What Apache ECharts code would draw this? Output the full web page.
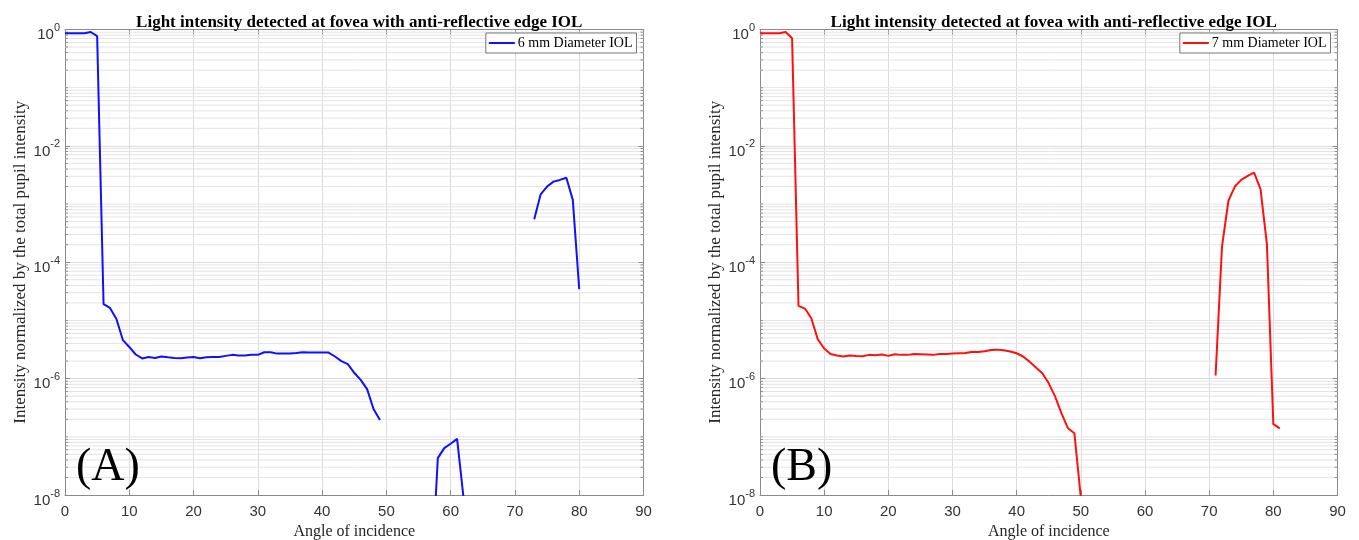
<!DOCTYPE html>
<html>
<head>
<meta charset="utf-8">
<script src="https://cdn.jsdelivr.net/npm/echarts@6/dist/echarts.min.js"></script>
<style>
  html, body { margin: 0; padding: 0; background: #fff; }
  #chart { width: 1359px; height: 540px; }
</style>
</head>
<body>
<div id="chart"></div>
<script>
// ---- Data ----
const titleText = 'Light intensity detected at fovea with anti-reflective edge IOL';
const seriesNames = ['6 mm Diameter IOL', '7 mm Diameter IOL'];
const panelLabels = ['(A)', '(B)'];
const xAxisName = 'Angle of incidence';
const yAxisName = 'Intensity normalized by the total pupil intensity';

const angles = [0,1,2,3,4,5,6,7,8,9,10,11,12,13,14,15,16,17,18,19,20,
  21,22,23,24,25,26,27,28,29,30,31,32,33,34,35,36,37,38,39,40,
  41,42,43,44,45,46,47,48,49,50,51,52,53,54,55,56,57,58,59,60,
  61,62,63,64,65,66,67,68,69,70,71,72,73,74,75,76,77,78,79,80,81];

// 6 mm diameter IOL (blue); null = no detected light (not drawn on log scale)
const intensity6mm = [
  0.86, 0.86, 0.86, 0.86, 0.905, 0.77,
  1.9e-5, 1.64e-5, 1.06e-5, 4.6e-6, 3.5e-6, 2.6e-6, 2.22e-6, 2.36e-6, 2.26e-6, 2.4e-6,
  2.33e-6, 2.27e-6, 2.24e-6, 2.3e-6, 2.36e-6, 2.24e-6, 2.33e-6, 2.36e-6, 2.36e-6, 2.46e-6,
  2.56e-6, 2.5e-6, 2.5e-6, 2.56e-6, 2.56e-6, 2.84e-6, 2.84e-6, 2.69e-6, 2.69e-6, 2.69e-6,
  2.76e-6, 2.84e-6, 2.8e-6, 2.8e-6, 2.8e-6, 2.8e-6, 2.4e-6, 2.0e-6, 1.77e-6, 1.26e-6,
  9.5e-7, 6.6e-7, 3.0e-7, 1.95e-7,
  null, null, null, null, null, null, null,
  3.4e-10, 4.3e-8, 6.4e-8, 7.6e-8, 9.2e-8, 9e-9,
  null, null, null, null, null, null, null, null, null, null,
  5.5e-4, 1.47e-3, 2.0e-3, 2.43e-3, 2.6e-3, 2.84e-3, 1.18e-3, 3.45e-5,
  null
];

// 7 mm diameter IOL (red)
const intensity7mm = [
  0.86, 0.86, 0.86, 0.86, 0.905, 0.71,
  1.78e-5, 1.6e-5, 1.09e-5, 4.75e-6, 3.3e-6, 2.65e-6, 2.5e-6, 2.4e-6, 2.5e-6, 2.46e-6,
  2.43e-6, 2.56e-6, 2.52e-6, 2.6e-6, 2.46e-6, 2.63e-6, 2.56e-6, 2.56e-6, 2.66e-6, 2.63e-6,
  2.6e-6, 2.56e-6, 2.66e-6, 2.66e-6, 2.7e-6, 2.73e-6, 2.76e-6, 2.88e-6, 2.88e-6, 2.96e-6,
  3.1e-6, 3.15e-6, 3.07e-6, 2.92e-6, 2.73e-6, 2.4e-6, 1.96e-6, 1.55e-6, 1.24e-6, 8.3e-7,
  4.9e-7, 2.5e-7, 1.4e-7, 1.15e-7, 9e-9,
  null, null, null, null, null, null, null, null, null, null,
  null, null, null, null, null, null, null, null, null, null,
  1.13e-6, 1.85e-4, 1.14e-3, 2.0e-3, 2.6e-3, 3.04e-3, 3.47e-3, 1.8e-3, 2.04e-4, 1.65e-7, 1.4e-7
];

const xTicks = { min: 0, max: 90, interval: 10, minorTickSpan: 0.45 };
const yRange = { min: 1e-8, max: 1, decadeStep: 2 };
const minorMultipliers = [2, 3, 4, 5, 6, 7, 8, 9];
const minorDecades = [-8, -7, -6, -5, -4, -3, -2, -1];
const oddDecadeLines = [1e-7, 1e-5, 1e-3, 1e-1];

// ---- Build options ----
const minorGridValues = minorDecades
  .flatMap(k => minorMultipliers.map(m => m * Math.pow(10, k)))
  .concat(oddDecadeLines);

const toPairs = vals => angles.map((a, i) => [a, vals[i] == null ? '-' : vals[i]]);
const minorGridData = minorGridValues.flatMap(v => [[xTicks.min, v], [xTicks.max, v], [xTicks.max, '-']]);
const minorTickData = minorGridValues.flatMap(v => [
  [xTicks.min, v], [xTicks.min + xTicks.minorTickSpan, v], [xTicks.min + xTicks.minorTickSpan, '-'],
  [xTicks.max - xTicks.minorTickSpan, v], [xTicks.max, v], [xTicks.max, '-']
]);

const grids = [
  { left: 65, top: 29.5, width: 578.5, height: 465.5, containLabel: false, outerBoundsMode: 'none' },
  { left: 760, top: 29.5, width: 577.5, height: 465.5, containLabel: false, outerBoundsMode: 'none' }
];
const colors = ['#1010ff', '#ff1010'];
const datasets = [intensity6mm, intensity7mm];

const frameColor = '#8a8a8a';
const labelColor = '#333333';
const serif = 'Liberation Serif';
const sans = 'Liberation Sans';

const xAxes = [], yAxes = [], series = [], titles = [], legends = [], graphics = [];

grids.forEach((g, p) => {
  xAxes.push({
    type: 'value', gridIndex: p, min: xTicks.min, max: xTicks.max, interval: xTicks.interval,
    position: 'bottom',
    name: xAxisName, nameLocation: 'middle', nameGap: 29, nameMoveOverlap: false,
    nameTextStyle: { fontFamily: serif, fontSize: 16, color: '#262626' },
    axisLine: { show: true, onZero: false, lineStyle: { color: frameColor, width: 1 } },
    axisTick: { show: true, inside: true, length: 5, lineStyle: { color: frameColor } },
    axisLabel: { margin: 9, fontFamily: sans, fontSize: 15, color: labelColor },
    splitLine: { show: true, lineStyle: { color: '#dcdcdc', width: 1 } }
  });
  xAxes.push({
    type: 'value', gridIndex: p, min: xTicks.min, max: xTicks.max, interval: xTicks.interval,
    position: 'top',
    axisLine: { show: true, onZero: false, lineStyle: { color: frameColor, width: 1 } },
    axisTick: { show: true, inside: true, length: 5, lineStyle: { color: frameColor } },
    axisLabel: { show: false }, splitLine: { show: false }
  });
  const yBase = {
    type: 'log', logBase: 10, gridIndex: p, min: yRange.min, max: yRange.max,
    interval: yRange.decadeStep
  };
  yAxes.push(Object.assign({}, yBase, {
    position: 'left',
    name: yAxisName, nameLocation: 'middle', nameGap: 36, nameMoveOverlap: false,
    nameTextStyle: { fontFamily: serif, fontSize: 17, color: '#262626' },
    axisLine: { show: true, onZero: false, lineStyle: { color: frameColor, width: 1 } },
    axisTick: { show: true, inside: true, length: 5, lineStyle: { color: frameColor } },
    axisLabel: {
      margin: 5,
      padding: [6, 0, 0, 0],
      formatter: v => '{b|10}{s|' + Math.round(Math.log10(v)) + '}',
      rich: {
        b: { fontFamily: sans, fontSize: 15, color: labelColor, verticalAlign: 'bottom', lineHeight: 20 },
        s: { fontFamily: sans, fontSize: 11, color: labelColor, verticalAlign: 'top', lineHeight: 20 }
      }
    },
    splitLine: { show: true, lineStyle: { color: '#dcdcdc', width: 1 } }
  }));
  yAxes.push(Object.assign({}, yBase, {
    position: 'right',
    axisLine: { show: true, onZero: false, lineStyle: { color: frameColor, width: 1 } },
    axisTick: { show: true, inside: true, length: 5, lineStyle: { color: frameColor } },
    axisLabel: { show: false }, splitLine: { show: false }
  }));

  // minor grid lines and minor ticks, drawn through the log axis as helper series
  series.push({
    type: 'line', xAxisIndex: p * 2, yAxisIndex: p * 2, data: minorGridData,
    silent: true, z: 1, showSymbol: false, symbol: 'none', connectNulls: false,
    lineStyle: { color: '#e4e4e4', width: 1 }, tooltip: { show: false }
  });
  series.push({
    type: 'line', xAxisIndex: p * 2, yAxisIndex: p * 2, data: minorTickData,
    silent: true, z: 2, showSymbol: false, symbol: 'none', connectNulls: false,
    lineStyle: { color: frameColor, width: 1 }, tooltip: { show: false }
  });
  series.push({
    name: seriesNames[p], type: 'line', xAxisIndex: p * 2, yAxisIndex: p * 2,
    data: toPairs(datasets[p]), showSymbol: false, symbol: 'none',
    connectNulls: false, clip: true, z: 3,
    lineStyle: { color: colors[p], width: 2 }, itemStyle: { color: colors[p] }
  });

  titles.push({
    text: titleText, left: g.left + g.width / 2, top: 9, textAlign: 'center',
    textStyle: { fontFamily: serif, fontWeight: 'bold', fontSize: 17, color: '#000' }
  });
  legends.push({
    data: [{ name: seriesNames[p], icon: 'rect', itemStyle: { color: colors[p] } }],
    top: 33, right: 1359 - (g.left + g.width - 7),
    orient: 'vertical', backgroundColor: '#fff', borderColor: '#777', borderWidth: 1,
    padding: [3, 4, 3, 3], itemWidth: 26, itemHeight: 2, z: 6,
    textStyle: { fontFamily: serif, fontSize: 14, color: '#000', padding: [0, 0, 0, -2] }
  });
  graphics.push({
    type: 'text', x: g.left + 11, y: 468, z: 10,
    style: { text: panelLabels[p], fontFamily: serif, fontSize: 46, fill: '#000',
             align: 'left', verticalAlign: 'middle' }
  });
});

const chart = echarts.init(document.getElementById('chart'), null, { renderer: 'canvas' });
chart.setOption({
  animation: false,
  backgroundColor: '#fff',
  title: titles,
  legend: legends,
  grid: grids,
  xAxis: xAxes,
  yAxis: yAxes,
  series: series,
  graphic: graphics
});
</script>
</body>
</html>
